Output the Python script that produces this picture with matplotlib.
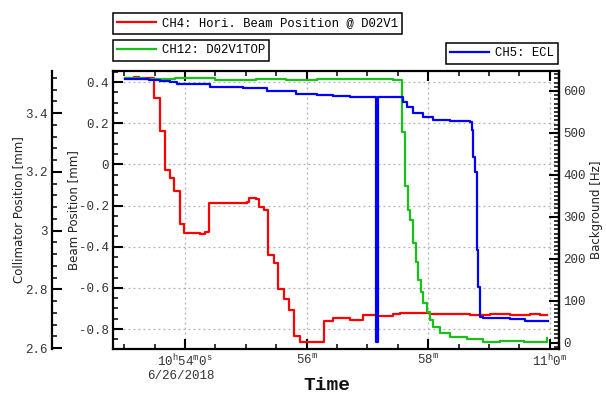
import matplotlib
matplotlib.use("Agg")
import matplotlib.pyplot as plt
import matplotlib.dates as mdates
from matplotlib.ticker import FixedLocator, FixedFormatter, MultipleLocator, FuncFormatter
import pandas as pd

plt.rcParams['axes.unicode_minus'] = False
plt.rcParams['mathtext.fontset'] = 'custom'
plt.rcParams['mathtext.rm'] = 'Liberation Mono'
plt.rcParams['mathtext.it'] = 'Liberation Mono'
plt.rcParams['mathtext.bf'] = 'Liberation Mono:bold'

DAY = "2018-06-26 "

# ---------------- data ----------------
red_times = ["10:53:01", "10:53:10", "10:53:15", "10:53:29", "10:53:35", "10:53:40", "10:53:45",
             "10:53:49", "10:53:55", "10:53:59", "10:54:15", "10:54:20", "10:54:24", "10:54:47",
             "10:55:01", "10:55:03", "10:55:10", "10:55:13", "10:55:18", "10:55:22", "10:55:28",
             "10:55:32", "10:55:38", "10:55:43", "10:55:48", "10:55:53", "10:56:17", "10:56:26",
             "10:56:43", "10:56:56", "10:57:09", "10:57:25", "10:57:32", "10:58:02", "10:58:41",
             "10:59:01", "10:59:21", "10:59:40", "10:59:50", "10:59:57"]
red_values = [0.42, 0.425, 0.42, 0.32, 0.16, -0.026, -0.065,
              -0.13, -0.29, -0.335, -0.34, -0.327, -0.19, -0.188,
              -0.185, -0.163, -0.168, -0.205, -0.224, -0.44, -0.48,
              -0.605, -0.654, -0.707, -0.833, -0.865, -0.76, -0.748,
              -0.755, -0.73, -0.735, -0.728, -0.72, -0.725, -0.73,
              -0.725, -0.73, -0.725, -0.732, -0.732]

green_times = ["10:53:01", "10:53:20", "10:53:50", "10:54:30", "10:55:10", "10:55:40", "10:56:10",
               "10:56:40", "10:57:10", "10:57:25", "10:57:34", "10:57:37", "10:57:40", "10:57:42",
               "10:57:45", "10:57:48", "10:57:50", "10:57:53", "10:57:55", "10:57:59", "10:58:02",
               "10:58:05", "10:58:12", "10:58:21", "10:58:38", "10:58:54", "10:59:11", "10:59:34",
               "10:59:50", "10:59:57"]
green_values = [3.520, 3.515, 3.518, 3.514, 3.517, 3.514, 3.517,
                3.515, 3.517, 3.514, 3.336, 3.151, 3.070, 3.036,
                2.956, 2.894, 2.832, 2.792, 2.752, 2.724, 2.695,
                2.673, 2.650, 2.639, 2.630, 2.622, 2.625, 2.622,
                2.622, 2.634]

blue_times = ["10:53:01", "10:53:25", "10:53:35", "10:53:45", "10:53:52", "10:54:25", "10:54:57",
              "10:55:21", "10:55:50", "10:56:10", "10:56:26", "10:56:43", "10:57:08", "10:57:10",
              "10:57:32", "10:57:35", "10:57:39", "10:57:45", "10:57:55", "10:58:05", "10:58:21",
              "10:58:41", "10:58:43", "10:58:44", "10:58:46", "10:58:48", "10:58:49", "10:58:51",
              "10:58:54", "10:59:21", "10:59:35", "10:59:50", "10:59:58"]
blue_values = [628, 626, 625, 622, 617, 610, 606,
               601, 594, 590, 588, 586, 2, 586,
               585, 574, 562, 548, 539, 531, 529,
               527, 507, 443, 407, 221, 133, 62,
               58, 56, 52, 51, 51]

legend_labels = ["CH4: Hori. Beam Position @ D02V1", "CH12: D02V1TOP", "CH5: ECL"]
x_tick_times = ["10:54:00", "10:56:00", "10:58:00", "11:00:00"]
x_tick_labels = [r"10$^{\rm h}$54$^{\rm m}$0$^{\rm s}$", r"56$^{\rm m}$", r"58$^{\rm m}$",
                 r"11$^{\rm h}$0$^{\rm m}$"]
date_label = "6/26/2018"
x_range = ["10:52:49", "11:00:09"]


def to_num(times):
    return mdates.date2num(pd.to_datetime([DAY + t for t in times]))


MONO = 'Liberation Mono'
TICKCOL = '#333333'

fig = plt.figure(figsize=(6.06, 3.94), dpi=100)
ax = fig.add_axes([113 / 606, 1 - 349 / 394, (559 - 113) / 606, (349 - 71) / 394])
ax_c = ax.twinx()
ax_r = ax.twinx()

# lines
l_red, = ax.plot(to_num(red_times), red_values, drawstyle='steps-post', color='#ff0000', lw=1.6)
l_green, = ax_c.plot(to_num(green_times), green_values, drawstyle='steps-post', color='#18c018', lw=1.6)
l_blue, = ax_r.plot(to_num(blue_times), blue_values, drawstyle='steps-post', color='#0000ff', lw=1.6)

xl = to_num(x_range)
ax.set_xlim(xl[0], xl[1])
ax.set_ylim(-0.897, 0.4535)
ax_c.set_ylim(2.5966, 3.543)
ax_r.set_ylim(-15.5, 647.7)

# x ticks
ax.xaxis.set_major_locator(FixedLocator(to_num(x_tick_times)))
ax.xaxis.set_major_formatter(FixedFormatter(x_tick_labels))
ax.xaxis.set_minor_locator(MultipleLocator(30 / 86400))

# y ticks
ax.yaxis.set_major_locator(MultipleLocator(0.2))
ax.yaxis.set_minor_locator(MultipleLocator(0.05))
ax.yaxis.set_major_formatter(FuncFormatter(lambda v, p: "%g" % round(v, 3)))
ax_c.yaxis.set_major_locator(MultipleLocator(0.2))
ax_c.yaxis.set_minor_locator(MultipleLocator(0.04))
ax_c.yaxis.set_major_formatter(FuncFormatter(lambda v, p: "%g" % round(v, 3)))
ax_r.yaxis.set_major_locator(MultipleLocator(100))
ax_r.yaxis.set_minor_locator(MultipleLocator(10))
ax_r.yaxis.set_major_formatter(FuncFormatter(lambda v, p: "%d" % round(v)))

# collimator axis on the far left
ax_c.yaxis.set_ticks_position('left')
ax_c.yaxis.set_label_position('left')
ax_c.spines['left'].set_position(('outward', 61 * 72 / 100))
for s in ['right', 'top', 'bottom']:
    ax_c.spines[s].set_visible(False)
ax_c.spines['left'].set_linewidth(1.6)
for s in ['left', 'top', 'bottom']:
    ax_r.spines[s].set_visible(False)
ax_r.spines['right'].set_linewidth(1.6)
for s in ax.spines.values():
    s.set_linewidth(1.6)

for a in (ax, ax_c, ax_r):
    a.tick_params(which='major', direction='in', length=7, width=1.5, labelsize=9,
                  labelcolor=TICKCOL, pad=3)
    a.tick_params(which='minor', direction='in', length=3.5, width=1.1)
    for lab in a.get_xticklabels() + a.get_yticklabels():
        lab.set_fontfamily(MONO)
ax.tick_params(axis='x', which='both', top=True)
ax.tick_params(axis='y', which='both', right=False)

ax.grid(True, which='major', linestyle=(0, (1.5, 2.5)), color='#b0b0b0', lw=0.9)
ax.set_axisbelow(True)

# date under first tick label
ax.text(to_num(["10:53:56"])[0], -0.075, date_label, transform=ax.get_xaxis_transform(),
        ha='center', va='top', fontsize=9, family=MONO, color=TICKCOL)

# axis labels
ax.set_ylabel("Beam Position [mm]", fontsize=8.5, color='#222222', family='DejaVu Sans')
ax.yaxis.set_label_coords((80 - 113) / 446, 0.5)
ax_c.set_ylabel("Collimator Position [mm]", fontsize=8.5, color='#222222', family='DejaVu Sans')
ax_c.yaxis.set_label_coords((25 - 113) / 446, 0.5)
ax_r.set_ylabel("Background [Hz]", fontsize=8.5, color='#222222', family='DejaVu Sans')
ax_r.yaxis.set_label_coords((590 - 113) / 446, 0.5)
ax.set_xlabel("Time", fontsize=14, fontweight='bold', family=MONO, color='#111111')
ax.xaxis.label.set_va('center')
ax.xaxis.set_label_coords((327 - 113) / 446, (349 - 385) / 278)

# legends
leg_kw = dict(frameon=True, fancybox=False, framealpha=1, edgecolor='black',
              borderpad=0.35, handlelength=3.2, handletextpad=0.45, borderaxespad=0,
              prop={'family': MONO, 'size': 8.8})
lg1 = fig.legend([l_red], [legend_labels[0]], loc='upper left',
                 bbox_to_anchor=(113 / 606, 1 - 13 / 394), **leg_kw)
lg2 = fig.legend([l_green], [legend_labels[1]], loc='upper left',
                 bbox_to_anchor=(113 / 606, 1 - 40 / 394), **leg_kw)
lg3 = fig.legend([l_blue], [legend_labels[2]], loc='upper right',
                 bbox_to_anchor=(558 / 606, 1 - 43 / 394), **leg_kw)
for lg in (lg1, lg2, lg3):
    lg.get_frame().set_linewidth(1.1)

fig.savefig("out.png", dpi=100)
